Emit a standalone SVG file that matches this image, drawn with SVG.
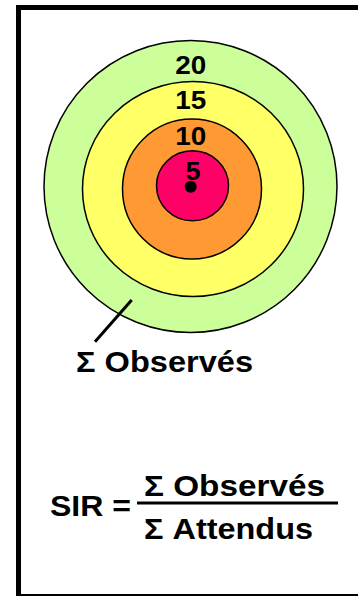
<svg xmlns="http://www.w3.org/2000/svg" width="358" height="597" viewBox="0 0 358 597">
<style>
.ring{stroke:#000;stroke-width:1.5}
.num{font-family:"Liberation Sans",Arial,sans-serif;font-weight:bold;font-size:26px;fill:#000;text-anchor:middle}
.lbl{font-family:"Liberation Sans",Arial,sans-serif;font-weight:bold;font-size:30px;fill:#000}
</style>
<rect width="358" height="597" fill="#fff"/>
<g id="frame">
<rect x="16" y="5" width="342" height="5" fill="#000"/>
<rect x="16" y="5" width="5" height="591" fill="#000"/>
<rect x="16" y="594" width="342" height="2" fill="#000"/>
</g>
<g id="ring20"><ellipse class="ring" cx="190.5" cy="186.5" rx="146.5" ry="146" fill="#CCFF99"/></g>
<g id="ring15"><ellipse class="ring" cx="193" cy="189" rx="110.5" ry="107.5" fill="#FFFF66"/></g>
<g id="ring10"><ellipse class="ring" cx="192" cy="189" rx="69.5" ry="70" fill="#FF9933"/></g>
<g id="ring5"><ellipse class="ring" cx="192.5" cy="185.7" rx="36" ry="35" fill="#FF0066"/></g>
<g id="center"><circle cx="190.7" cy="186.7" r="6" fill="#000"/></g>
<g id="labels">
<text class="num" x="190.7" y="73.5" textLength="31" lengthAdjust="spacingAndGlyphs">20</text>
<text class="num" x="190.7" y="108.5" textLength="31" lengthAdjust="spacingAndGlyphs">15</text>
<text class="num" x="190.7" y="144.5" textLength="31" lengthAdjust="spacingAndGlyphs">10</text>
<text class="num" x="193" y="179.5" textLength="15" lengthAdjust="spacingAndGlyphs">5</text>
</g>
<g id="connectors">
<line x1="131.7" y1="300" x2="95" y2="341.7" stroke="#000" stroke-width="3"/>
</g>
<g id="observes"><text class="lbl" x="76" y="372" textLength="177" lengthAdjust="spacingAndGlyphs">Σ Observés</text></g>
<g id="formula">
<text class="lbl" x="50" y="516" textLength="81" lengthAdjust="spacingAndGlyphs">SIR =</text>
<text class="lbl" x="144" y="496" textLength="181" lengthAdjust="spacingAndGlyphs">Σ Observés</text>
<rect x="137" y="501.5" width="201" height="3" fill="#000"/>
<text class="lbl" x="144" y="539" textLength="169" lengthAdjust="spacingAndGlyphs">Σ Attendus</text>
</g>
</svg>
